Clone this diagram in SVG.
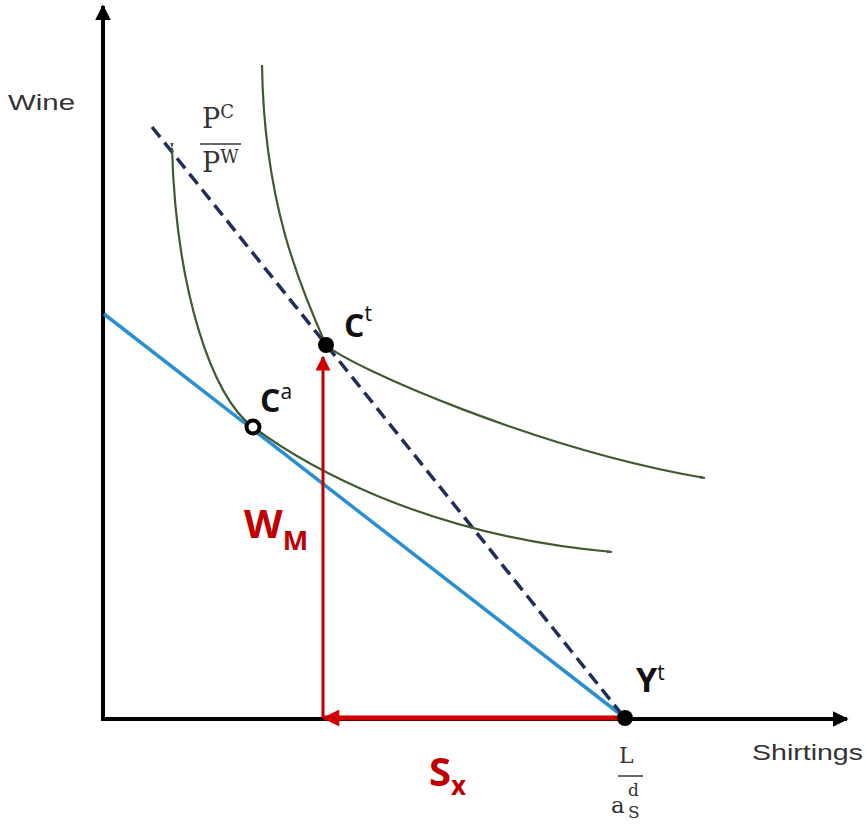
<svg xmlns="http://www.w3.org/2000/svg" width="866" height="825" viewBox="0 0 866 825">
<style>
.lbl{font-family:"Liberation Sans","Open Sans",sans-serif;fill:#333}
.big{font-family:"Open Sans","Liberation Sans",sans-serif;font-weight:bold;fill:#111}
.red{font-family:"Open Sans","Liberation Sans",sans-serif;font-weight:bold;fill:#c00000}
.math{font-family:"DejaVu Serif","Liberation Serif",serif;fill:#333}
.ic{fill:none;stroke:#3f5a2c;stroke-width:2.2}
</style>
<defs>
<marker id="ah" viewBox="0 0 10 10" refX="9" refY="5" markerWidth="4" markerHeight="4" orient="auto"><path d="M0,0L10,5L0,10z" fill="#000"/></marker>
<marker id="rh" viewBox="0 0 10 10" refX="9" refY="5" markerWidth="5" markerHeight="5" orient="auto"><path d="M0,0L10,5L0,10z" fill="#d00000"/></marker>
<marker id="rh2" viewBox="0 0 10 10" refX="9" refY="5" markerWidth="4.4" markerHeight="3.4" orient="auto"><path d="M0,0L10,5L0,10z" fill="#d00000"/></marker>
<marker id="gh" viewBox="0 0 10 10" refX="9" refY="5" markerWidth="3.5" markerHeight="2.5" orient="auto"><path d="M0,2L10,5L0,8z" fill="#3f5a2c"/></marker>
</defs>
<rect width="866" height="825" fill="#fff"/>
<g id="connectors">
<line x1="103" y1="721" x2="103" y2="6" stroke="#000" stroke-width="4" marker-end="url(#ah)"/>
<line x1="101" y1="719" x2="847" y2="719" stroke="#000" stroke-width="4" marker-end="url(#ah)"/>
<line id="blue" x1="104" y1="314" x2="625" y2="718" stroke="#2a8fd0" stroke-width="3.5"/>
<line id="dashed" x1="152" y1="127" x2="620" y2="712" stroke="#1f2d5c" stroke-width="3.5" stroke-dasharray="13,7"/>
<path id="ic1" class="ic" d="M172,148 C176,290 212,398 253,427 C300,462 420,535 612,552" marker-start="url(#gh)" marker-end="url(#gh)"/>
<path id="ic2" class="ic" d="M262,65 C264,200 298,282 326,345 C352,368 540,450 705,478" marker-end="url(#gh)"/>
<line x1="323" y1="718" x2="323" y2="357" stroke="#c00000" stroke-width="3" marker-end="url(#rh)"/>
<line x1="625" y1="718" x2="324" y2="718" stroke="#d00000" stroke-width="5" marker-end="url(#rh2)"/>
</g>
<g id="Ct"><circle cx="326" cy="345" r="8" fill="#000"/><text class="big" x="344" y="337" font-size="32">C<tspan font-size="21" font-weight="normal" dy="-16">t</tspan></text></g>
<g id="Ca"><circle cx="253" cy="427" r="6.5" fill="#fff" stroke="#000" stroke-width="4"/><text class="big" x="260" y="412" font-size="32">C<tspan font-size="21" font-weight="normal" dy="-13">a</tspan></text></g>
<g id="Yt"><circle cx="625" cy="718" r="8" fill="#000"/><text class="big" x="636" y="692" font-size="34">Y<tspan font-size="21" font-weight="normal" dy="-12">t</tspan></text></g>
<g id="labels">
<text class="lbl" x="8" y="110" font-size="22" textLength="67" lengthAdjust="spacingAndGlyphs">Wine</text>
<text class="lbl" x="752" y="760" font-size="22" textLength="111" lengthAdjust="spacingAndGlyphs">Shirtings</text>
<text class="math" x="202" y="128" font-size="27">P<tspan font-size="18" dy="-10">C</tspan></text>
<line x1="200" y1="144" x2="241" y2="144" stroke="#333" stroke-width="1.5"/>
<text class="math" x="202" y="172" font-size="27">P<tspan font-size="18" dy="-9">W</tspan></text>
<text class="math" x="619" y="763" font-size="22">L</text>
<line x1="618" y1="776" x2="643" y2="776" stroke="#333" stroke-width="1.5"/>
<text class="math" x="611" y="813" font-size="23">a</text>
<text class="math" x="628" y="796" font-size="17">d</text>
<text class="math" x="628" y="818" font-size="17">S</text>
<text class="red" x="244" y="538" font-size="40">W<tspan font-size="27" dy="12">M</tspan></text>
<text class="red" x="429" y="786" font-size="40">S<tspan font-size="26" dy="9">x</tspan></text>
</g>
</svg>
